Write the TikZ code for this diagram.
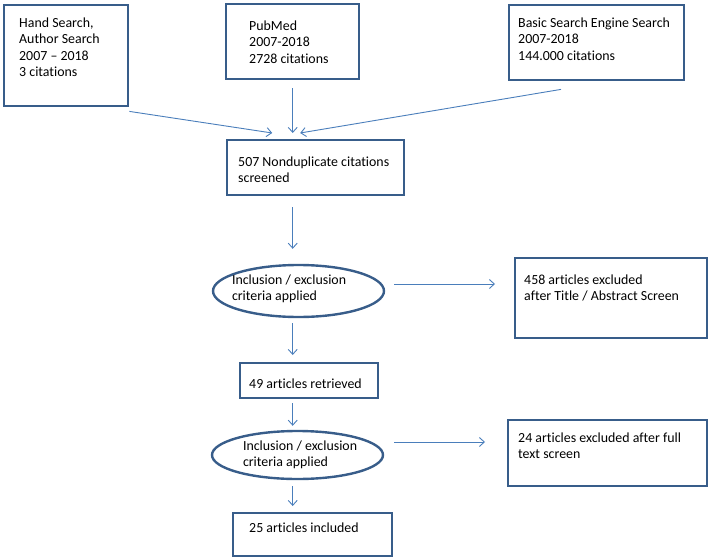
\documentclass[tikz,border=0pt]{standalone}
\usepackage{fontspec}
\setmainfont[Ligatures=NoCommon]{Carlito}
\usepackage{tikz}
\usetikzlibrary{arrows.meta, shapes.geometric}

\definecolor{boxblue}{RGB}{56,93,138}
\definecolor{arrblue}{RGB}{74,126,187}

\newcommand{\boxtext}[5]{\parbox[c][#2][t]{#1}{\vspace*{#4}\hspace*{#3}\begin{tabular}[t]{@{}l@{}}#5\end{tabular}}}

\begin{document}
\begin{tikzpicture}
[x=1pt, y=-1pt,
 rec/.style={draw=boxblue, line width=2.4pt, inner sep=0pt, anchor=north west,
   font=\fontsize{13.9}{16.5}\selectfont},
 ell/.style={ellipse, draw=boxblue, line width=2.4pt, inner sep=0pt,
   minimum width=171pt, font=\fontsize{13.9}{16.5}\selectfont},
 ->/.style={draw=arrblue, line width=0.9pt, arrows={-Straight Barb[length=5pt,width=9pt]}}]
\useasboundingbox (0,0) rectangle (708,556);
\node[rec] (hand) at (3,4) {\boxtext{124pt}{101pt}{15pt}{10.5pt}{Hand Search,\\Author Search\\2007 -- 2018\\3 citations}};
\node[rec] (pubmed) at (225,3) {\boxtext{133pt}{75pt}{23pt}{14.5pt}{PubMed\\2007-2018\\2728 citations}};
\node[rec] (basic) at (508,4) {\boxtext{175pt}{75pt}{9pt}{10.5pt}{Basic Search Engine Search\\2007-2018\\144.000 citations}};
\node[rec] (nondup) at (226,139) {\boxtext{177pt}{55pt}{11pt}{14.5pt}{507 Nonduplicate citations\\screened}};
\node[ell, minimum height=52pt] (incl1) at (298.5,291) {\boxtext{120pt}{36pt}{-6.5pt}{-0.5pt}{Inclusion / exclusion\\criteria applied}};
\node[rec] (ex1) at (514,257) {\boxtext{192pt}{80pt}{9pt}{14.5pt}{458 articles excluded\\after Title / Abstract Screen}};
\node[rec] (ret) at (239,362) {\boxtext{138pt}{35pt}{9pt}{14pt}{49 articles retrieved}};
\node[ell, minimum height=48pt] (incl2) at (297.5,455) {\boxtext{120pt}{33pt}{5.5pt}{0pt}{Inclusion / exclusion\\criteria applied}};
\node[rec] (ex2) at (507,419) {\boxtext{199pt}{66pt}{10pt}{10.5pt}{24 articles excluded after full\\text screen}};
\node[rec] (inc) at (232,512) {\boxtext{159pt}{43pt}{16pt}{7.5pt}{25 articles included}};
\draw[->] ([yshift=-4pt]hand.south east) -- ([xshift=-43.5pt,yshift=6pt]nondup.north);
\draw[->] ([yshift=-8pt]pubmed.south) -- ([yshift=6pt]pubmed.south |- nondup.north);
\draw[->] ([xshift=53pt,yshift=-8pt]basic.south west) -- ([xshift=-15.5pt,yshift=6pt]nondup.north);
\draw[->] ([yshift=-11pt]pubmed.south |- nondup.south) -- ([yshift=15pt]pubmed.south |- incl1.north);
\draw[->] ([yshift=-5pt]pubmed.south |- incl1.south) -- ([yshift=7pt]pubmed.south |- ret.north);
\draw[->] ([yshift=-4pt]pubmed.south |- ret.south) -- ([yshift=4pt]pubmed.south |- incl2.north);
\draw[->] ([yshift=-6pt]pubmed.south |- incl2.south) -- ([yshift=6pt]pubmed.south |- inc.north);
\draw[->] ([xshift=9pt,yshift=7pt]incl1.east) -- ([xshift=-19pt,yshift=7pt]incl1.east -| ex1.west);
\draw[->] ([xshift=10pt,yshift=13pt]incl2.east) -- ([xshift=-22pt,yshift=13pt]incl2.east -| ex2.west);
\end{tikzpicture}
\end{document}
